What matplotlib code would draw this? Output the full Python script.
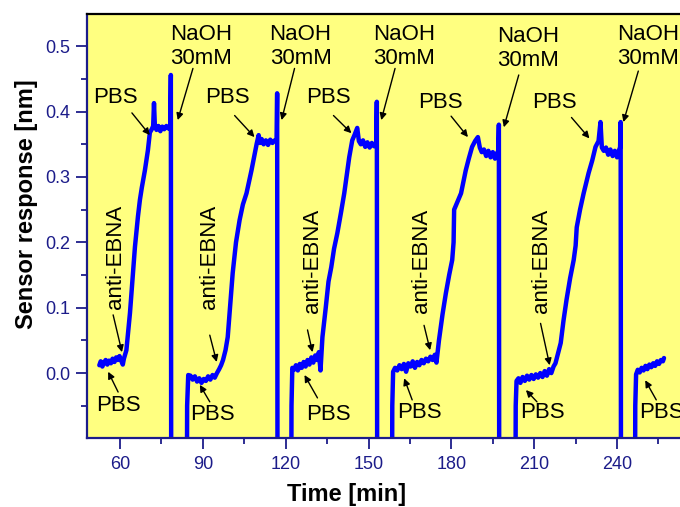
import matplotlib
matplotlib.use("Agg")
import matplotlib.pyplot as plt
from matplotlib.ticker import MultipleLocator, FormatStrFormatter

plt.rcParams['font.family'] = ['Liberation Sans', 'DejaVu Sans']

# ---------------------------
# Data (time in min, response in nm)
# each NaOH pulse drops far below the axis, hence the -0.5 points
# ---------------------------
cyc1_t = [52.5, 53.0, 53.6, 54.2, 54.8, 55.4, 56.0, 56.7, 57.3, 58.0, 58.6, 59.2, 59.8, 60.4,
          61.0, 61.4, 62.3, 63.6, 65.4, 66.5, 67.2, 67.9, 69.0, 70.1, 70.8, 71.5, 72.0, 72.3,
          72.6, 73.2, 73.9, 74.6, 75.3, 76.0, 76.8, 77.6, 78.2, 78.4, 78.6]
cyc1_v = [0.012, 0.018, 0.010, 0.016, 0.020, 0.013, 0.019, 0.015, 0.022, 0.017, 0.024, 0.020, 0.026, 0.019,
          0.013, 0.022, 0.035, 0.092, 0.193, 0.240, 0.265, 0.284, 0.310, 0.341, 0.368, 0.373, 0.378, 0.413,
          0.380, 0.372, 0.378, 0.370, 0.377, 0.373, 0.378, 0.374, 0.378, 0.456, -0.5]

cyc2_t = [84.0, 84.3, 84.7, 85.5, 86.3, 87.1, 87.9, 88.7, 89.5, 90.3, 91.1, 91.9, 92.7, 93.5, 94.3,
          95.1, 95.9, 96.6, 97.3, 98.2, 99.0, 100.0, 100.8, 102.0, 103.3, 104.5, 105.8, 107.6, 108.6,
          109.5, 110.2, 110.7, 111.3, 112.0, 112.8, 113.6, 114.4, 115.2, 116.0, 116.7, 116.9, 117.1]
cyc2_v = [-0.5, -0.05, -0.003, -0.004, -0.010, -0.005, -0.013, -0.008, -0.015, -0.009, -0.012, -0.005,
          -0.010, -0.003, -0.007, 0.000, 0.006, 0.012, 0.020, 0.035, 0.055, 0.110, 0.153, 0.200, 0.234,
          0.258, 0.275, 0.310, 0.332, 0.351, 0.364, 0.352, 0.358, 0.350, 0.356, 0.349, 0.357, 0.352,
          0.356, 0.355, 0.428, -0.5]

cyc3_t = [121.8, 122.1, 122.4, 123.0, 123.7, 124.4, 125.1, 125.8, 126.5, 127.2, 127.9, 128.6, 129.3,
          130.0, 130.7, 131.4, 132.0, 132.6, 133.3, 134.5, 135.5, 136.5, 137.5, 138.7, 140.0, 141.2,
          142.2, 143.0, 144.1, 145.0, 145.9, 146.5, 147.2, 148.0, 148.8, 149.6, 150.4, 151.2, 152.0,
          152.8, 153.0, 153.2]
cyc3_v = [-0.5, -0.05, 0.008, 0.005, 0.012, 0.004, 0.014, 0.008, 0.017, 0.010, 0.020, 0.013, 0.024,
          0.016, 0.027, 0.020, 0.032, 0.004, 0.055, 0.100, 0.140, 0.162, 0.190, 0.214, 0.245, 0.275,
          0.305, 0.330, 0.356, 0.365, 0.375, 0.355, 0.350, 0.356, 0.346, 0.353, 0.345, 0.352, 0.347,
          0.352, 0.415, -0.5]

cyc4_t = [158.3, 158.6, 158.9, 159.6, 160.4, 161.2, 162.0, 162.8, 163.6, 164.4, 165.2, 166.0, 166.8,
          167.6, 168.4, 169.2, 170.0, 170.8, 171.6, 172.4, 173.2, 174.0, 174.6, 175.5, 176.8, 178.0,
          179.2, 180.3, 180.8, 181.0, 182.2, 183.5, 185.2, 186.3, 187.5, 188.6, 189.6, 190.3, 191.0,
          191.8, 192.6, 193.4, 194.2, 195.0, 195.8, 196.6, 197.0, 197.2, 197.4]
cyc4_v = [-0.5, -0.05, 0.002, 0.008, 0.004, 0.012, 0.006, 0.014, 0.002, 0.015, 0.010, 0.018, 0.008,
          0.017, 0.012, 0.020, 0.015, 0.022, 0.018, 0.025, 0.020, 0.028, 0.016, 0.050, 0.090, 0.122,
          0.150, 0.173, 0.200, 0.250, 0.262, 0.275, 0.310, 0.328, 0.346, 0.355, 0.361, 0.345, 0.338,
          0.342, 0.332, 0.340, 0.330, 0.338, 0.328, 0.337, 0.340, 0.380, -0.5]

cyc5_t = [203.0, 203.3, 203.6, 204.3, 205.0, 205.8, 206.6, 207.4, 208.2, 209.0, 209.8, 210.6, 211.4,
          212.2, 213.0, 213.8, 214.6, 215.4, 216.2, 217.0, 217.7, 218.6, 219.6, 220.6, 221.7, 223.0,
          224.3, 225.0, 225.4, 226.6, 227.9, 229.7, 231.0, 232.2, 233.3, 234.0, 234.5, 235.2, 236.0,
          236.8, 237.6, 238.4, 239.2, 240.0, 240.8, 241.1, 241.3, 241.5]
cyc5_v = [-0.5, -0.05, -0.012, -0.008, -0.015, -0.006, -0.012, -0.004, -0.010, -0.003, -0.009, -0.002,
          -0.007, 0.000, -0.006, 0.003, -0.004, 0.006, 0.000, 0.010, 0.015, 0.030, 0.046, 0.080, 0.112,
          0.145, 0.173, 0.195, 0.223, 0.250, 0.275, 0.306, 0.325, 0.346, 0.355, 0.384, 0.345, 0.340,
          0.345, 0.334, 0.342, 0.332, 0.340, 0.330, 0.342, 0.345, 0.384, -0.5]

cyc6_t = [246.3, 246.6, 246.9, 247.5, 248.2, 248.9, 249.6, 250.3, 251.0, 251.7, 252.4, 253.1, 253.8,
          254.5, 255.2, 255.9, 256.6, 257.0]
cyc6_v = [-0.5, -0.05, -0.002, 0.005, 0.001, 0.008, 0.004, 0.011, 0.006, 0.013, 0.009, 0.015, 0.011,
          0.018, 0.014, 0.020, 0.018, 0.023]

# annotation anchors: (text x, text y, arrow tail x, tail y, arrow head x, head y)
naoh_notes = [(89.3, 0.500, 86.4, 0.466, 80.9, 0.387),
              (125.4, 0.500, 123.2, 0.466, 118.5, 0.387),
              (163.0, 0.500, 159.6, 0.466, 154.6, 0.387),
              (207.9, 0.497, 204.4, 0.456, 199.0, 0.376),
              (251.2, 0.500, 247.7, 0.462, 242.3, 0.384)]
pbs_top_notes = [(58.2, 0.421, 64.3, 0.398, 70.8, 0.364),
                 (99.0, 0.421, 101.5, 0.394, 108.7, 0.361),
                 (135.5, 0.421, 137.3, 0.394, 143.8, 0.367),
                 (176.2, 0.414, 179.9, 0.393, 186.0, 0.361),
                 (217.4, 0.414, 223.5, 0.391, 230.0, 0.359)]
pbs_low_notes = [(59.3, -0.049, 59.3, -0.029, 55.7, 0.002),
                 (93.6, -0.064, 92.5, -0.044, 88.9, -0.018),
                 (135.5, -0.064, 131.5, -0.038, 126.8, -0.003),
                 (168.3, -0.061, 165.8, -0.041, 162.9, -0.008),
                 (213.1, -0.061, 211.0, -0.044, 207.0, -0.026),
                 (256.0, -0.061, 254.2, -0.041, 250.2, -0.011)]
ebna_notes = [(58.2, 0.177, 57.5, 0.089, 60.7, 0.032),
              (92.5, 0.177, 92.5, 0.058, 95.0, 0.017),
              (129.7, 0.172, 127.9, 0.066, 129.7, 0.032),
              (169.0, 0.172, 170.1, 0.073, 172.3, 0.035),
              (212.7, 0.172, 212.3, 0.076, 215.6, 0.012)]

NAVY = '#1c1c8a'

time = cyc1_t + cyc2_t + cyc3_t + cyc4_t + cyc5_t + cyc6_t
resp = cyc1_v + cyc2_v + cyc3_v + cyc4_v + cyc5_v + cyc6_v

fig = plt.figure(figsize=(6.8, 5.07), dpi=100)
ax = fig.add_axes([0.128, 0.136, 0.872, 0.836])
ax.set_facecolor('#ffff80')

ax.plot(time, resp, color='#0000ff', lw=3.2, solid_joinstyle='round', solid_capstyle='round')

ax.set_xlim(48.05, 262.8)
ax.set_ylim(-0.0994, 0.549)

ax.xaxis.set_major_locator(MultipleLocator(30))
ax.xaxis.set_minor_locator(MultipleLocator(15))
ax.yaxis.set_major_locator(MultipleLocator(0.1))
ax.yaxis.set_minor_locator(MultipleLocator(0.05))
ax.yaxis.set_major_formatter(FormatStrFormatter('%.1f'))

ax.tick_params(which='both', direction='out', color=NAVY, width=1.3,
               labelcolor=NAVY, labelsize=13, top=False, right=False)
ax.tick_params(which='major', length=8)
ax.tick_params(which='minor', length=4.5)
ax.tick_params(axis='x', pad=5)
ax.tick_params(axis='y', pad=4)

ax.spines['left'].set_color(NAVY)
ax.spines['bottom'].set_color(NAVY)
ax.spines['top'].set_color('black')
ax.spines['right'].set_visible(False)
for s in ('left', 'bottom', 'top'):
    ax.spines[s].set_linewidth(1.6)

ax.set_xlabel('Time [min]', fontsize=17, fontweight='bold')
ax.set_ylabel('Sensor response [nm]', fontsize=17, fontweight='bold')
ax.xaxis.set_label_coords(0.438, -0.105)
ax.yaxis.set_label_coords(-0.083, 0.552)

arrow_kw = dict(arrowstyle='-|>', color='black', lw=1.0, mutation_scale=10,
                shrinkA=0, shrinkB=0)


def add_notes(notes, label, **text_kw):
    for tx, ty, ax0, ay0, ax1, ay1 in notes:
        ax.text(tx, ty, label, ha='center', va='center', fontsize=16, clip_on=False, **text_kw)
        ax.annotate('', xy=(ax1, ay1), xytext=(ax0, ay0), arrowprops=arrow_kw)


add_notes(naoh_notes, 'NaOH\n30mM', linespacing=1.2)
add_notes(pbs_top_notes, 'PBS')
add_notes(pbs_low_notes, 'PBS')
add_notes(ebna_notes, 'anti-EBNA', rotation=90)

fig.savefig('out.png', dpi=100)
